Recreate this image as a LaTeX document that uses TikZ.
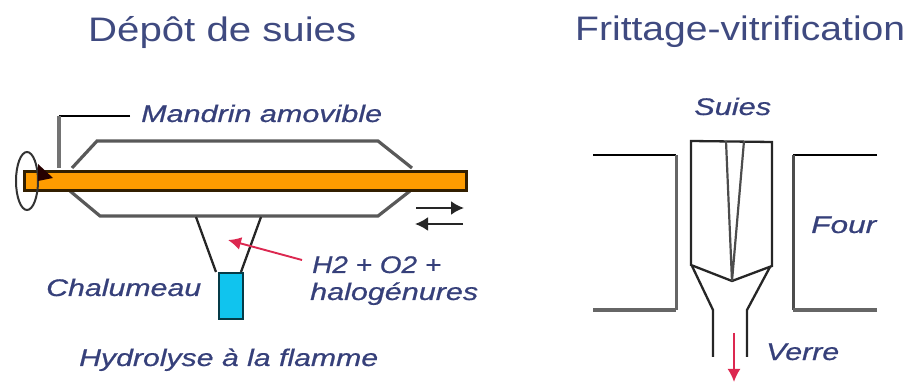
\documentclass[tikz,border=0pt]{standalone}
\usepackage{graphicx}
\usepackage{fontspec}
\setmainfont{Liberation Sans}
\newfontfamily\labfont[ItalicFeatures={FakeBold=0.6}]{Liberation Sans}
\definecolor{txt}{HTML}{36407A}
\definecolor{ttl}{HTML}{3F4A80}
\definecolor{rod}{HTML}{FF9C00}
\definecolor{blu}{HTML}{10C4EE}
\definecolor{redd}{HTML}{DC2850}
\newcommand\fitw[2]{\resizebox{#1pt}{\height}{#2}}
\usetikzlibrary{arrows.meta}
\tikzset{
 lab/.style={anchor=base west,inner sep=0pt,text=txt,font=\fontsize{24}{24}\labfont\itshape},
 ttlab/.style={anchor=base west,inner sep=0pt,text=ttl,font=\fontsize{34}{34}\selectfont},
 wire/.style={draw=black!85,line width=2.3pt},
 thick wire/.style={draw=black!65,line width=3.2pt},
 redarrow/.style={draw=redd,line width=1.9pt,-{Latex[length=13pt,width=13pt]}},
 blackarrow/.style={draw=black!85,line width=2.4pt,-{Latex[length=13pt,width=14pt]}}
}
\begin{document}
\begin{tikzpicture}[x=1pt,y=-1pt]
\useasboundingbox (0,0) rectangle (914,382);
% titles
\node[ttlab] (t1) at (88,42) {\fitw{268}{Dépôt de suies}};
\node[ttlab] (t2) at (575,41) {\fitw{330}{Frittage-vitrification}};
% left: body
\draw[thick wire] (72,168) -- (97,141) -- (378,141) -- (412,168);
\draw[thick wire] (70,191) -- (100,216) -- (378,216) -- (410,191);
% rod
\node[draw=black!80!rod,fill=rod,line width=2.6pt,minimum width=442pt,minimum height=19pt,inner sep=0pt,anchor=north west] (rodn) at (23,170) {};
% ellipse and rotation tip
\draw[line width=2pt,draw=black!80] (27,181) ellipse [x radius=11,y radius=29];
\fill[black!85!red] (38,164) -- (53,178) -- (38,181) -- cycle;
% leader
\coordinate (lead1) at (130,116);
\coordinate (lead2) at (59,116);
\coordinate (lead3) at (59,168);
\draw[draw=black,line width=2.2pt] (lead1) -- (lead2);
\draw[draw=black!55,line width=3.2pt] (lead2) -- (lead3);
% burner
\draw[wire] (196,217) -- (216,272);
\draw[wire] (261,217) -- (241,272);
\node[draw=black!70!blu,fill=blu,line width=2.3pt,minimum width=24pt,minimum height=46pt,inner sep=0pt,anchor=north west] (flame) at (218,272) {};
% arrows
\coordinate (ra1) at (302,260);
\coordinate (ra2) at (228,240);
\draw[redarrow] (ra1) -- (ra2);
\coordinate (b1) at (416,208);
\coordinate (b2) at (464,208);
\coordinate (b3) at (463,224);
\coordinate (b4) at (415,224);
\draw[blackarrow] (b1) -- (b2);
\draw[blackarrow] (b3) -- (b4);
% left labels
\node[lab] (l1) at (141,122) {\fitw{241}{Mandrin amovible}};
\node[lab] (l2) at (46,296) {\fitw{155}{Chalumeau}};
\node[lab] (l3) at (312,273) {\fitw{129}{H2 + O2 +}};
\node[lab] (l4) at (310,300) {\fitw{168}{halogénures}};
\node[lab] (l5) at (79,366) {\fitw{299}{Hydrolyse à la flamme}};
% right: furnace
\draw[draw=black,line width=2.4pt] (593,155) -- (676,155);
\draw[draw=black!60,line width=3pt] (676,155) -- (676,310);
\draw[draw=black!60,line width=3.4pt] (593,310) -- (676,310);
\draw[draw=black,line width=2.4pt] (877,155) -- (793,155);
\draw[draw=black!70,line width=3pt] (793,155) -- (793,310);
\draw[draw=black!60,line width=3.4pt] (877,310) -- (793,310);
% preform
\draw[wire] (691,141) -- (772,142) -- (772,266) -- (732,281) -- (691,265) -- cycle;
\draw[draw=black!70,line width=2.2pt] (726,141) -- (732,281) -- (744,141);
% neck
\draw[wire] (692,266) -- (713,310) -- (713,357);
\draw[wire] (770,267) -- (747,310) -- (747,357);
\coordinate (v1) at (734,333);
\coordinate (v2) at (734,382);
\draw[redarrow] (v1) -- (v2);
% right labels
\node[lab] (r1) at (694,115) {\fitw{77}{Suies}};
\node[lab] (r2) at (811,233) {\fitw{65}{Four}};
\node[lab] (r3) at (766,360) {\fitw{73}{Verre}};
\end{tikzpicture}
\end{document}
